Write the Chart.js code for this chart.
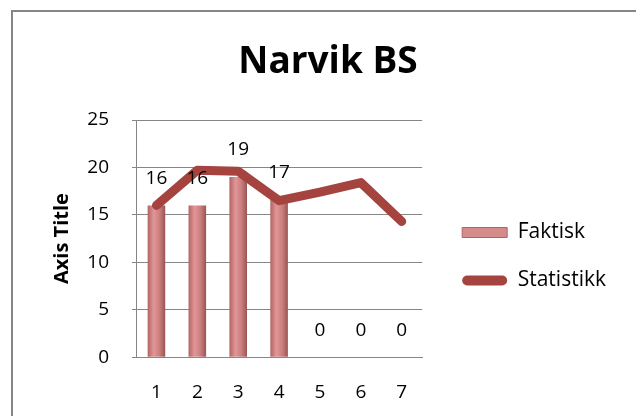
<!DOCTYPE html>
<html>
<head>
<meta charset="utf-8">
<script src="https://cdn.jsdelivr.net/npm/chart.js@4.4.1/dist/chart.umd.min.js"></script>
<style>
  html, body { margin: 0; padding: 0; background: #fff; }
  #wrap { width: 636px; height: 416px; }
</style>
</head>
<body>
<div id="wrap"><canvas id="myChart" width="636" height="416"></canvas></div>
<script>
const categories = ['1', '2', '3', '4', '5', '6', '7'];
const faktisk = [16, 16, 19, 16.6, 0, 0, 0];
const statistikk = [16, 19.7, 19.6, 16.5, 17.4, 18.4, 14.3];

const ctx = document.getElementById('myChart').getContext('2d');
const FONT = 'Open Sans';

// cylinder-ish shading per bar, computed from the x scale
function barShade(context) {
  const chart = context.chart;
  const x = chart.scales.x;
  if (!x || context.dataIndex === undefined) return '#d08585';
  const cx = x.getPixelForValue(context.dataIndex);
  const half = x.width / categories.length * 0.43 / 2;
  if (!isFinite(cx) || !isFinite(half) || half <= 0) return '#d08585';
  const g = chart.ctx.createLinearGradient(cx - half, 0, cx + half, 0);
  g.addColorStop(0, '#b06464');
  g.addColorStop(0.35, '#e39696');
  g.addColorStop(0.7, '#c87c7c');
  g.addColorStop(1, '#985454');
  return g;
}

const data = {
  labels: categories,
  datasets: [
    {
      type: 'line',
      label: 'Statistikk',
      data: statistikk,
      borderColor: '#a5433f',
      backgroundColor: '#a5433f',
      borderWidth: 9,
      borderCapStyle: 'round',
      borderJoinStyle: 'round',
      pointRadius: 0,
      tension: 0,
      order: 0
    },
    {
      type: 'bar',
      label: 'Faktisk',
      data: faktisk,
      backgroundColor: barShade,
      borderWidth: 0,
      categoryPercentage: 1,
      barPercentage: 0.43,
      order: 1
    }
  ]
};

const config = {
  data: data,
  options: {
    responsive: false,
    animation: false,
    layout: {
      padding: { left: 40, right: 20, top: 0, bottom: -12 }
    },
    plugins: {
      title: {
        display: true,
        text: 'Narvik BS',
        color: '#000',
        font: { family: FONT, size: 37, weight: 'bold' },
        padding: { top: 40, bottom: 35.6 }
      },
      legend: {
        position: 'right',
        align: 'start',
        reverse: true,
        maxWidth: 260,
        // empty title only used as a spacer to push the items down
        title: { display: true, text: '', font: { size: 10 }, padding: { top: 183, bottom: 0 } },
        labels: {
          color: '#000',
          font: { family: FONT, size: 21 },
          boxWidth: 45,
          boxHeight: 10,
          padding: 27,
          generateLabels(chart) {
            const items = Chart.defaults.plugins.legend.labels.generateLabels(chart);
            items.forEach(it => {
              if (it.text === 'Faktisk') {
                it.fillStyle = '#d68b8b';
                it.strokeStyle = '#b06464';
                it.lineWidth = 1;
              } else {
                it.fillStyle = '#a5433f';
                it.lineWidth = 0;
                it.borderRadius = 5;
              }
            });
            return items;
          }
        }
      },
      tooltip: { enabled: false }
    },
    scales: {
      x: {
        offset: true,
        grid: { display: false, drawTicks: false },
        border: { display: true, color: '#868686' },
        ticks: { color: '#000', font: { family: FONT, size: 19 }, padding: 24 }
      },
      y: {
        min: 0,
        max: 25,
        ticks: { stepSize: 5, color: '#000', font: { family: FONT, size: 19 }, padding: 23 },
        grid: { color: '#868686', tickLength: 4 },
        border: { color: '#868686' },
        title: {
          display: true,
          text: 'Axis Title',
          color: '#000',
          font: { family: FONT, size: 20, weight: 'bold' },
          padding: { top: 10, bottom: 10 }
        }
      },
      // blank axis, only keeps a gap between the plot and the legend
      gap: {
        position: 'right',
        grid: { display: false, drawTicks: false },
        border: { display: false },
        ticks: { display: false },
        afterFit(scale) { scale.width = 13; }
      }
    }
  },
  plugins: [{
    id: 'frame',
    beforeDraw(chart) {
      const c = chart.ctx;
      c.save();
      c.fillStyle = '#fff';
      c.fillRect(0, 0, chart.width, chart.height);
      c.strokeStyle = '#868686';
      c.lineWidth = 2;
      c.strokeRect(12, 11, chart.width + 20, chart.height + 20);
      c.restore();
    }
  }, {
    id: 'barLabels',
    afterDatasetsDraw(chart) {
      const {ctx, scales: {x, y}} = chart;
      ctx.save();
      ctx.fillStyle = '#000';
      ctx.font = '19px "' + FONT + '"';
      ctx.textAlign = 'center';
      ctx.textBaseline = 'middle';
      faktisk.forEach((v, i) => {
        ctx.fillText(String(Math.round(v)), x.getPixelForValue(i), y.getPixelForValue(v) - 27);
      });
      ctx.restore();
    }
  }]
};

const myChart = new Chart(ctx, config);
</script>
</body>
</html>
